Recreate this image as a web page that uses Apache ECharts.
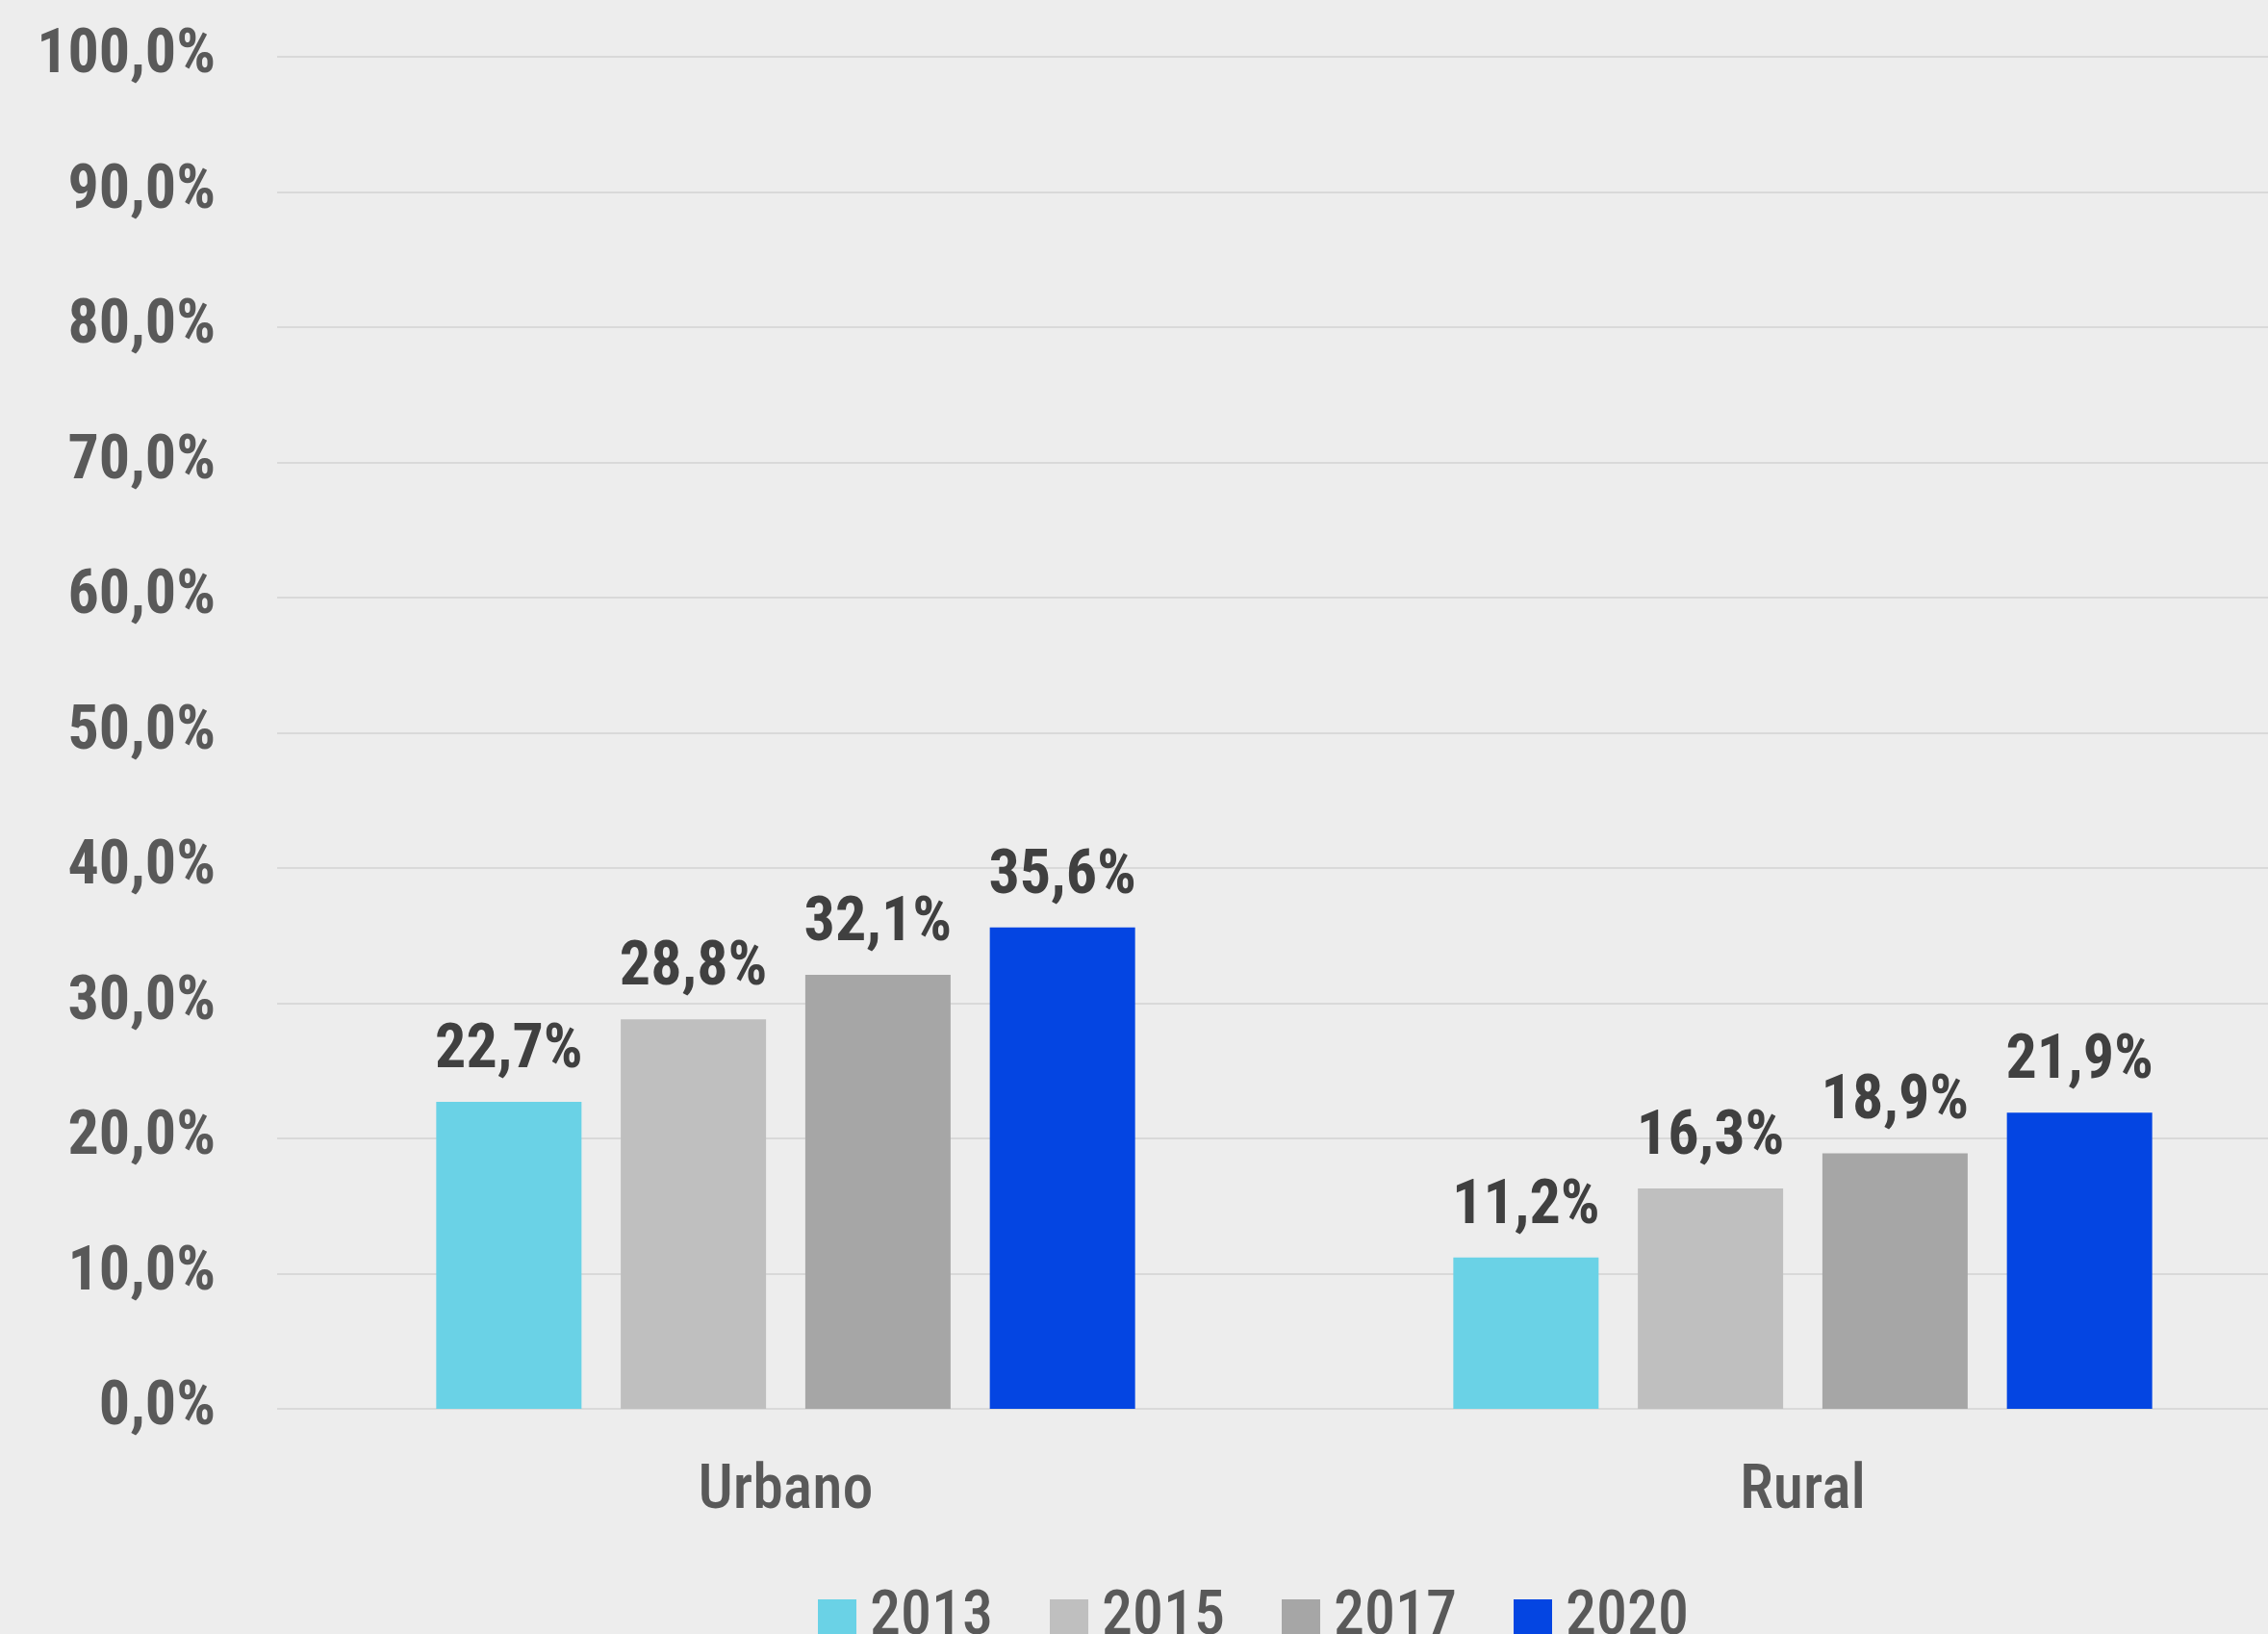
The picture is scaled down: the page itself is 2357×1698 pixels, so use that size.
<!DOCTYPE html>
<html>
<head>
<meta charset="utf-8">
<script src="https://cdn.jsdelivr.net/npm/echarts@6/dist/echarts.min.js"></script>
<style>
  html, body { margin: 0; padding: 0; background: #ededed; }
  #chart { width: 2357px; height: 1698px; }
</style>
</head>
<body>
<div id="chart"></div>
<script>
// data
var categories = ['Urbano', 'Rural'];
var years = ['2013', '2015', '2017', '2020'];
var v2013 = [22.7, 11.2];
var v2015 = [28.8, 16.3];
var v2017 = [32.1, 18.9];
var v2020 = [35.6, 21.9];
var colors = ['#6ad2e6', '#bfbfbf', '#a6a6a6', '#0445e2'];

var font = "'Roboto Condensed', 'DejaVu Sans Condensed', sans-serif";

function pct(v) {
    return v.toFixed(1).replace('.', ',') + '%';
}

function makeSeries(name, data, color) {
    return {
        name: name,
        type: 'bar',
        data: data,
        barWidth: 151,
        barGap: '27%',
        itemStyle: { color: color },
        label: {
            show: true,
            position: 'top',
            distance: 20,
            formatter: function (p) { return pct(p.value); },
            color: '#404040',
            fontFamily: font,
            fontWeight: 'bold',
            fontSize: 64
        }
    };
}

var myChart = echarts.init(document.getElementById('chart'));

myChart.setOption({
    backgroundColor: '#ededed',
    animation: false,
    color: colors,
    // the plot runs past the right edge of the picture, so no squeezing
    grid: { left: 288, width: 2114, top: 59, height: 1405, outerBoundsMode: 'none' },
    legend: {
        data: years,
        left: 845,
        top: 1645,
        itemWidth: 40,
        itemHeight: 40,
        itemGap: 59,
        icon: 'rect',
        textStyle: {
            color: '#595959',
            fontFamily: font,
            fontWeight: 500,
            fontSize: 64,
            width: 118,
            lineHeight: 40,
            padding: [0, 0, 18, 9]
        }
    },
    xAxis: {
        type: 'category',
        data: categories,
        axisLine: { show: false },
        axisTick: { show: false },
        axisLabel: {
            margin: 55,
            color: '#595959',
            fontFamily: font,
            fontWeight: 500,
            fontSize: 64
        }
    },
    yAxis: {
        type: 'value',
        min: 0,
        max: 100,
        interval: 10,
        axisLine: { show: false },
        axisTick: { show: false },
        splitLine: { lineStyle: { color: '#d9d9d9', width: 2 } },
        axisLabel: {
            margin: 64,
            color: '#595959',
            fontFamily: font,
            fontWeight: 'bold',
            fontSize: 64,
            formatter: pct
        }
    },
    series: [
        makeSeries(years[0], v2013, colors[0]),
        makeSeries(years[1], v2015, colors[1]),
        makeSeries(years[2], v2017, colors[2]),
        makeSeries(years[3], v2020, colors[3])
    ]
});
</script>
</body>
</html>
